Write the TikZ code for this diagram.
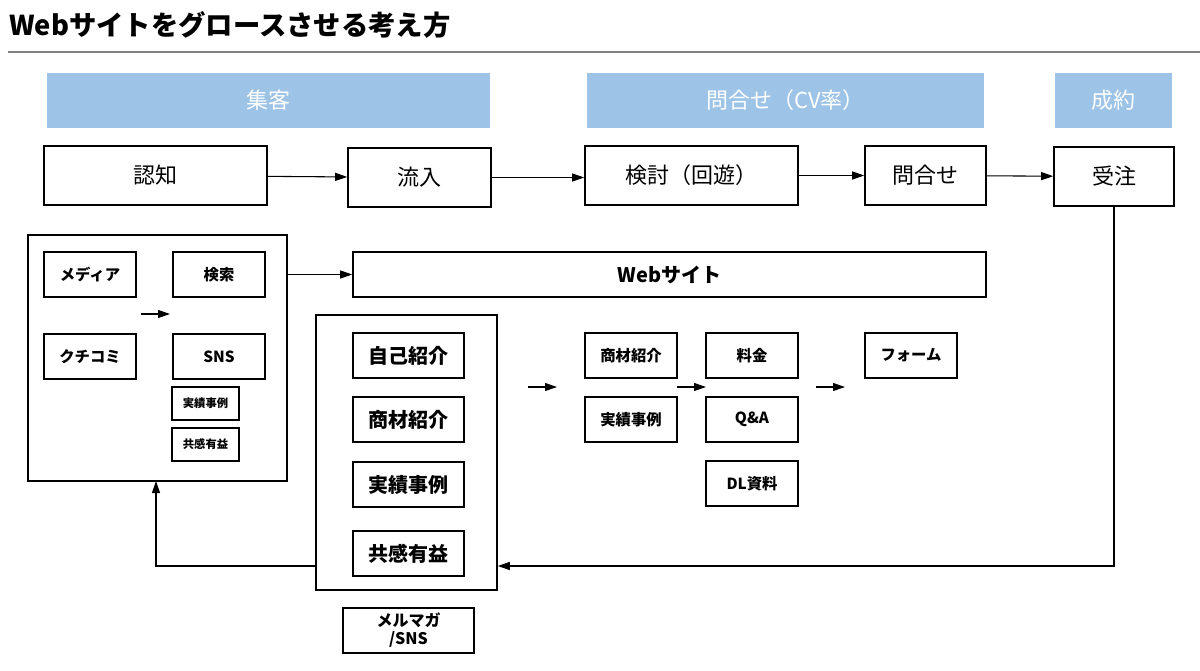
\documentclass[tikz,border=0pt]{standalone}
\usepackage{fontspec}
\newfontfamily\jp{Noto Sans CJK JP}
\usetikzlibrary{arrows.meta}
\definecolor{barblue}{HTML}{9DC3E6}
\tikzset{
  sz/.style 2 args={minimum width=#1*0.75pt, minimum height=#2*0.75pt},
  bar/.style={fill=barblue, text=white, inner sep=0pt, font=\jp\fontsize{16.5}{18}\selectfont},
  stage/.style={draw, line width=1.2pt, inner sep=0pt, font=\jp\fontsize{16.5}{18}\selectfont},
  item/.style={draw, line width=1.2pt, inner sep=0pt, font=\jp\bfseries\fontsize{11.5}{13}\selectfont},
  bigitem/.style={draw, line width=1.2pt, inner sep=0pt, font=\jp\bfseries\fontsize{15}{17}\selectfont},
  tinyitem/.style={draw, line width=1.2pt, inner sep=0pt, font=\jp\bfseries\fontsize{8.5}{10}\selectfont},
  frame/.style={draw, line width=1.2pt, inner sep=0pt},
  link/.style={->, line width=0.8pt},
}
\begin{document}
\begin{tikzpicture}[x=0.75pt, y=-0.75pt, >={Triangle[length=9pt,width=6pt]}]
    \useasboundingbox (0,0) rectangle (1200,671);

    % Titel und Linie
    \node[anchor=west, inner sep=0pt, font=\jp\bfseries\fontsize{20.5}{22}\selectfont] (title) at (9,25) {Webサイトをグロースさせる考え方};
    \draw[gray, line width=1.5pt] (8,52) -- (1200,52);

    % Phasen
    \node[bar, sz={443}{55}] (acq) at (268.5,100.5) {集客};
    \node[bar, sz={397}{55}] (cvr) at (785.5,100.5) {問合せ（CV率）};
    \node[bar, sz={117}{55}] (deal) at (1113.5,100.5) {成約};

    % Schritte
    \node[stage, sz={223}{59}] (aware) at (155.5,175.5) {認知};
    \node[stage, sz={143}{59}] (inflow) at (419.5,177.5) {流入};
    \node[stage, sz={213}{59}] (consider) at (691.5,175.5) {検討（回遊）};
    \node[stage, sz={121}{59}] (inquiry) at (925.5,175.5) {問合せ};
    \node[stage, sz={120}{59}] (order) at (1114,176.5) {受注};
    \draw[link] (aware) -- (inflow);
    \draw[link] (inflow.east) -- (consider.west |- inflow.east);
    \draw[link] (consider) -- (inquiry);
    \draw[link] (inquiry) -- (order);

    % Kanaele
    \node[frame, sz={259}{246}] (channels) at (157.5,358) {};
    \node[item, sz={92}{45}] (media) at (90,274.5) {メディア};
    \node[item, sz={92}{45}] (search) at (219,274.5) {検索};
    \node[item, sz={92}{45}] (kuchikomi) at (90,356.5) {クチコミ};
    \node[item, sz={92}{45}] (sns) at (219,356.5) {SNS};
    \node[tinyitem, sz={67}{33}] (case1) at (205.5,403.5) {実績事例};
    \node[tinyitem, sz={67}{33}] (empathy1) at (205.5,444.5) {共感有益};
    \coordinate (c1a) at (141,314);
    \coordinate (c1b) at (170,314);
    \draw[link] (c1a) -- (c1b);

    % Webサイト
    \node[item, sz={633}{45}, font=\jp\bfseries\fontsize{15}{17}\selectfont] (web) at (669.5,274.5) {Webサイト};
    \draw[link] (channels.east |- web) -- (web);

    % Inhalte
    \node[frame, sz={181}{275}] (content) at (406.5,452.5) {};
    \node[bigitem, sz={111}{45}] (intro) at (408.5,355.5) {自己紹介};
    \node[bigitem, sz={111}{45}] (product) at (408.5,419.5) {商材紹介};
    \node[bigitem, sz={111}{45}] (case2) at (408.5,484.5) {実績事例};
    \node[bigitem, sz={111}{45}] (empathy2) at (408.5,553.5) {共感有益};
    \node[item, sz={131}{45}, align=center, font=\jp\bfseries\fontsize{12}{13.5}\selectfont] (mail) at (408.5,630.5) {メルマガ\\/SNS};

    % Seitenpfad
    \node[item, sz={92}{45}] (product2) at (631,355.5) {商材紹介};
    \node[item, sz={92}{45}] (case3) at (631,419.5) {実績事例};
    \node[item, sz={92}{45}] (price) at (752,355.5) {料金};
    \node[item, sz={92}{45}] (faq) at (752,419.5) {Q\&A};
    \node[item, sz={92}{45}] (dl) at (752,483.5) {DL資料};
    \node[item, sz={92}{45}] (form) at (911,355.5) {フォーム};
    \coordinate (p1a) at (528,387);
    \coordinate (p1b) at (557,387);
    \coordinate (p2a) at (677,387);
    \coordinate (p2b) at (706,387);
    \coordinate (p3a) at (816,387);
    \coordinate (p3b) at (845,387);
    \draw[link] (p1a) -- (p1b);
    \draw[link] (p2a) -- (p2b);
    \draw[link] (p3a) -- (p3b);

    % Rueckkopplung
    \coordinate (turn) at (1114,566);
    \draw[link] (order.south) -- (turn) -- (content.east |- turn);
    \draw[link] (content.west |- turn) -- (156,566) -- (156,481);
\end{tikzpicture}
\end{document}
